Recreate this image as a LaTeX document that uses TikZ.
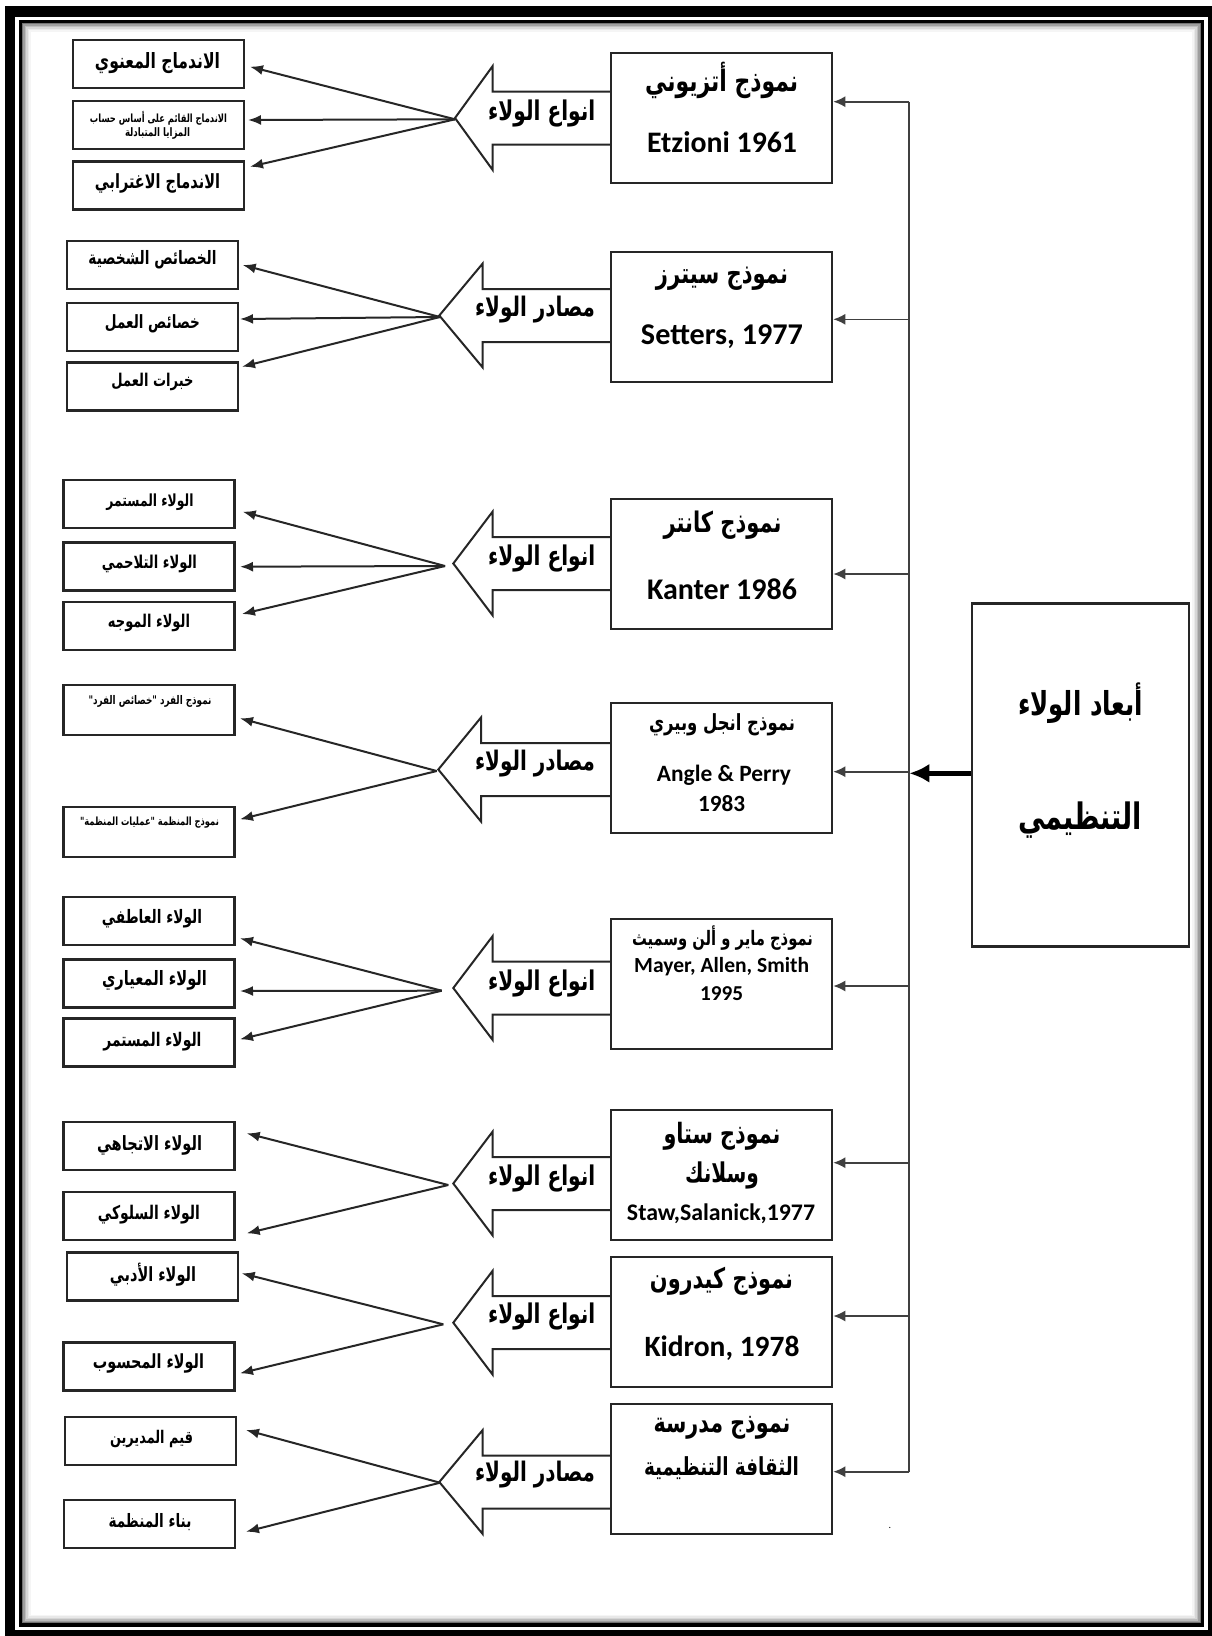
\documentclass[tikz,border=0pt]{standalone}
\usepackage{fontspec}
\usepackage{graphicx}
\usetikzlibrary{arrows.meta}
\setmainfont{Carlito}
\newfontfamily\arabicfont[Script=Arabic]{DejaVu Sans}
\TeXXeTstate=1
\newcommand\ar[1]{\scalebox{1}[1.35]{\arabicfont\bfseries\beginR #1\endR}}
\newcommand\lat[1]{{\bfseries #1}}
\newcommand\fitw[2]{\resizebox{#1pt}{!}{#2}}
\newcommand\drawBlk[3]{% cy, tipx, backx
  \draw[blk] (611,#1-26.5) -- (#3,#1-26.5) -- (#3,#1-52) -- (#2,#1) -- (#3,#1+52) -- (#3,#1+26.5) -- (611,#1+26.5);}
\begin{document}
\begin{tikzpicture}[x=1pt,y=-1pt,
  leaf/.style={draw=black!85, line width=2.4pt, minimum width=171pt, minimum height=48pt, inner sep=0pt},
  txt/.style={inner sep=0pt, outer sep=0pt},
  model/.style={draw=black!85, line width=2.2pt, minimum width=221pt, minimum height=130pt, inner sep=0pt},
  mainbox/.style={draw=black!85, line width=2.4pt, minimum width=217pt, minimum height=343pt, inner sep=0pt},
  blk/.style={draw=black!85, line width=2pt, line join=miter},
  conn/.style={draw=black!85, line width=2pt, -{Latex[length=13pt,width=10pt]}},
  feed/.style={draw=black!75, line width=1.6pt, -{Latex[length=12pt,width=11pt]}},
  mainarr/.style={draw=black, line width=5.5pt, -{Latex[length=20pt,width=19pt]}},
  vline/.style={draw=black!75, line width=2pt}]
\useasboundingbox (0,0) rectangle (1212,1636);
\fill[white] (0,0) rectangle (1212,1636);
% frame
\foreach \d/\c in {2/55,3.5/38,5/26,6.5/16,8/9,9.5/4}
  \draw[black!\c, line width=1.6pt] (20.5+\d,21.5+\d) rectangle (1202.5-\d,1625-\d);
\draw[black, line width=10.5pt] (10,11.5) rectangle (1213,1635);
\draw[black, line width=3.2pt] (20.5,21.5) rectangle (1202.5,1625);

% model boxes
\node[model] (m1) at (721.7,117.7) {};
\node[model] (m2) at (721.7,316.7) {};
\node[model] (m3) at (721.7,563.8) {};
\node[model] (m4) at (721.7,767.7) {};
\node[model] (m5) at (721.7,984.3) {};
\node[model] (m6) at (721.7,1175.3) {};
\node[model] (m7) at (721.7,1322.3) {};
\node[model] (m8) at (721.7,1469.2) {};
\node[mainbox] (main) at (1080.5,775) {};

% model texts
\node[txt] (m1t1) at (721.7,80) {\fitw{153}{\ar{نموذج أتزيوني}}};
\node[txt] (m1t2) at (722,141.7) {\fitw{150}{\lat{Etzioni 1961}}};
\node[txt] (m2t1) at (722,278.3) {\fitw{132}{\ar{نموذج سيترز}}};
\node[txt] (m2t2) at (722,336.7) {\fitw{162}{\lat{Setters, 1977}}};
\node[txt] (m3t1) at (722.5,525) {\fitw{118}{\ar{نموذج كانتر}}};
\node[txt] (m3t2) at (722,589.3) {\fitw{150}{\lat{Kanter 1986}}};
\node[txt] (m4t1) at (722,725) {\fitw{146}{\ar{نموذج انجل وبيري}}};
\node[txt] (m4t2) at (724,775) {\fitw{134}{\lat{Angle \& Perry}}};
\node[txt] (m4t3) at (721.5,804) {\fitw{47}{\lat{1983}}};
\node[txt] (m5t1) at (722.5,938.3) {\fitw{181}{\ar{نموذج ماير و ألن وسميث}}};
\node[txt] (m5t2) at (721.7,966.7) {\fitw{175}{\lat{Mayer, Allen, Smith}}};
\node[txt] (m5t3) at (721.5,993.3) {\fitw{43}{\lat{1995}}};
\node[txt] (m6t1) at (722,1136.7) {\fitw{117}{\ar{نموذج ستاو}}};
\node[txt] (m6t2) at (722,1175) {\fitw{74}{\ar{وسلانك}}};
\node[txt] (m6t3) at (721,1213.3) {\fitw{188}{\lat{Staw,Salanick,1977}}};
\node[txt] (m7t1) at (721.5,1281.7) {\fitw{143}{\ar{نموذج كيدرون}}};
\node[txt] (m7t2) at (722,1348.3) {\fitw{155}{\lat{Kidron, 1978}}};
\node[txt] (m8t1) at (722,1428.3) {\fitw{137}{\ar{نموذج مدرسة}}};
\node[txt] (m8t2) at (721.5,1468.3) {\fitw{155}{\ar{الثقافة التنظيمية}}};
\node[txt] (mt1) at (1080.5,703.3) {\fitw{125}{\ar{أبعاد الولاء}}};
\node[txt] (mt2) at (1080,820) {\fitw{124}{\ar{التنظيمي}}};

% block arrows
\drawBlk{118}{455}{492.7}
\drawBlk{315.5}{439.3}{482.7}
\drawBlk{563.5}{453.3}{492.7}
\drawBlk{769.5}{438.3}{481}
\drawBlk{988}{453.3}{492.7}
\drawBlk{1183.5}{453.3}{492.7}
\drawBlk{1322.7}{453.3}{492.7}
\drawBlk{1482}{439.3}{482.7}
\node[txt] (b1t) at (541.7,113.3) {\fitw{107}{\ar{انواع الولاء}}};
\node[txt] (b2t) at (535,310) {\fitw{120}{\ar{مصادر الولاء}}};
\node[txt] (b3t) at (541.7,558.3) {\fitw{107}{\ar{انواع الولاء}}};
\node[txt] (b4t) at (535,763.5) {\fitw{120}{\ar{مصادر الولاء}}};
\node[txt] (b5t) at (541.7,983.3) {\fitw{107}{\ar{انواع الولاء}}};
\node[txt] (b6t) at (541.7,1178.3) {\fitw{107}{\ar{انواع الولاء}}};
\node[txt] (b7t) at (541.7,1316.7) {\fitw{107}{\ar{انواع الولاء}}};
\node[txt] (b8t) at (535,1475) {\fitw{120}{\ar{مصادر الولاء}}};

% leaf boxes
\node[leaf] (g1a) at (158.4,63.9) {};
\node[leaf] (g1b) at (158.4,125) {};
\node[leaf] (g1c) at (158.4,185.4) {};
\node[leaf] (g2a) at (152.7,264.9) {};
\node[leaf] (g2b) at (152.7,326.7) {};
\node[leaf] (g2c) at (152.7,386.4) {};
\node[leaf] (g3a) at (148.8,503.8) {};
\node[leaf] (g3b) at (148.8,566.4) {};
\node[leaf] (g3c) at (148.8,626.2) {};
\node[leaf, minimum height=50pt] (g4a) at (148.8,710) {};
\node[leaf, minimum height=50pt] (g4b) at (148.8,831.7) {};
\node[leaf] (g5a) at (148.8,920.9) {};
\node[leaf] (g5b) at (148.8,983.4) {};
\node[leaf] (g5c) at (148.8,1042.5) {};
\node[leaf] (g6a) at (148.8,1146.2) {};
\node[leaf] (g6b) at (148.8,1215.9) {};
\node[leaf] (g7a) at (152.5,1276.4) {};
\node[leaf] (g7b) at (148.8,1366.4) {};
\node[leaf] (g8a) at (150.5,1441.2) {};
\node[leaf] (g8b) at (149.2,1524.2) {};

% leaf texts
\node[txt] (g1at) at (157.5,63.3) {\fitw{125}{\ar{الاندماج المعنوي}}};
\node[txt] (g1bt1) at (158.5,118.3) {\fitw{137}{\ar{الاندماج القائم على أساس حساب}}};
\node[txt] (g1bt2) at (157.5,133.3) {\fitw{65}{\ar{المزايا المتبادلة}}};
\node[txt] (g1ct) at (157.5,183.3) {\fitw{125}{\ar{الاندماج الاغترابي}}};
\node[txt] (g2at) at (152.5,259.3) {\fitw{128}{\ar{الخصائص الشخصية}}};
\node[txt] (g2bt) at (152.5,323.3) {\fitw{95}{\ar{خصائص العمل}}};
\node[txt] (g2ct) at (152.5,381.7) {\fitw{82}{\ar{خبرات العمل}}};
\node[txt] (g3at) at (150,501.7) {\fitw{87}{\ar{الولاء المستمر}}};
\node[txt] (g3bt) at (149.5,564) {\fitw{95}{\ar{الولاء التلاحمي}}};
\node[txt] (g3ct) at (149,622.7) {\fitw{82}{\ar{الولاء الموجه}}};
\node[txt] (g4at) at (150,701.7) {\fitw{123}{\ar{نموذج الفرد "خصائص الفرد"}}};
\node[txt] (g4bt) at (149.5,822.7) {\fitw{139}{\ar{نموذج المنظمة "عمليات المنظمة"}}};
\node[txt] (g5at) at (152,918.3) {\fitw{100}{\ar{الولاء العاطفي}}};
\node[txt] (g5bt) at (154.5,980) {\fitw{105}{\ar{الولاء المعياري}}};
\node[txt] (g5ct) at (152.5,1041.7) {\fitw{98}{\ar{الولاء المستمر}}};
\node[txt] (g6at) at (149.5,1145) {\fitw{105}{\ar{الولاء الاتجاهي}}};
\node[txt] (g6bt) at (149,1215) {\fitw{102}{\ar{الولاء السلوكي}}};
\node[txt] (g7at) at (153,1275) {\fitw{86}{\ar{الولاء الأدبي}}};
\node[txt] (g7bt) at (148.5,1363.3) {\fitw{111}{\ar{الولاء المحسوب}}};
\node[txt] (g8at) at (151.5,1439.3) {\fitw{83}{\ar{قيم المديرين}}};
\node[txt] (g8bt) at (150,1521.7) {\fitw{83}{\ar{بناء المنظمة}}};

% convergence points and arrow ends
\coordinate (c1) at (455,119.3);
\coordinate (c2) at (440,317);
\coordinate (c3) at (445,566);
\coordinate (c4) at (436.7,771);
\coordinate (c5) at (441.7,990.7);
\coordinate (c6) at (448.3,1185);
\coordinate (c7) at (443.3,1324.3);
\coordinate (c8) at (440,1482.7);
\coordinate (t1a) at (250,66.7);   \coordinate (t1b) at (248,120);   \coordinate (t1c) at (250,166.7);
\coordinate (t2a) at (242.7,265);  \coordinate (t2b) at (240,319);   \coordinate (t2c) at (242,366.7);
\coordinate (t3a) at (242.7,511.7);\coordinate (t3b) at (240,566.7); \coordinate (t3c) at (242,614);
\coordinate (t4a) at (240,718.3);  \coordinate (t4b) at (240,819.3);
\coordinate (t5a) at (240,938.3);  \coordinate (t5b) at (240,991);   \coordinate (t5c) at (240,1039.3);
\coordinate (t6a) at (246.7,1133.3);\coordinate (t6b) at (246.7,1233.3);
\coordinate (t7a) at (241.7,1273.3);\coordinate (t7b) at (240,1373.3);
\coordinate (t8a) at (246,1430);   \coordinate (t8b) at (246,1531.7);
\foreach \g/\ends in {1/{a,b,c},2/{a,b,c},3/{a,b,c},4/{a,b},5/{a,b,c},6/{a,b},7/{a,b},8/{a,b}}
  \foreach \e in \ends
    \draw[conn] (c\g) -- (t\g\e);

% feed line
\coordinate (v1) at (909.3,101.7);
\coordinate (v2) at (909.3,319.3);
\coordinate (v3) at (909.3,574);
\coordinate (v4) at (909.3,771.7);
\coordinate (v5) at (909.3,986);
\coordinate (v6) at (909.3,1162.7);
\coordinate (v7) at (909.3,1316);
\coordinate (v8) at (909.3,1471.7);
\draw[vline] (v1) -- (v8);
\foreach \i in {1,...,8}
  \draw[feed] (v\i) -- (v\i -| m\i.east);
\draw[mainarr] (main.west |- 0,773.3) -- (v1 |- 0,773.3);

\node[txt] (dot) at (890,1528) {\fontsize{10}{12}\selectfont .};
\end{tikzpicture}
\end{document}
